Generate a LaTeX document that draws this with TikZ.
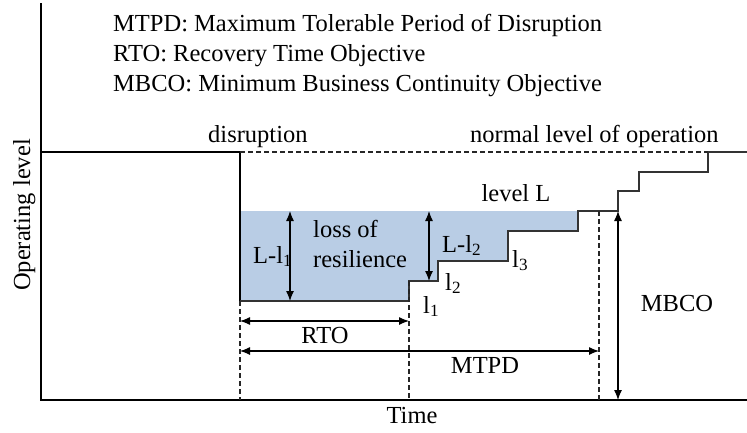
\documentclass[tikz,border=0pt]{standalone}
\usepackage{fontspec}
\setmainfont{Liberation Serif}
\usetikzlibrary{arrows.meta, positioning}

\definecolor{lossblue}{RGB}{185,205,229}

\tikzstyle{axis} = [line width=1.5pt, draw=black]
\tikzstyle{profile} = [line width=1.3pt, draw=black!80]
\tikzstyle{guide} = [line width=1.2pt, draw=black!85, dash pattern=on 5pt off 3pt]
\tikzstyle{dimarrow} = [line width=1.2pt, {Latex[length=10pt,width=8pt]}-{Latex[length=10pt,width=8pt]}]
\tikzstyle{txt} = [inner sep=0pt, font=\fontsize{24.5}{30}\selectfont]

\begin{document}
\begin{tikzpicture}[x=1pt, y=-1pt, node distance=0pt]
 \useasboundingbox (0,0) rectangle (747,432);

 % key points of the operating level curve
 \coordinate (origin) at (41,400);
 \coordinate (ytop) at (41,3);
 \coordinate (xend) at (747,400);
 \coordinate (disrupt) at (240,152);
 \coordinate (low) at (240,301);
 \coordinate (lone) at (409,281);
 \coordinate (mtpdtop) at (599,211);
 \coordinate (levelL) at (618,211);
 \coordinate (back) at (708,152);

 % loss of resilience
 \fill[lossblue] (240,211) -- (578,211) -- (578,231) -- (508,231) -- (508,261)
  -- (438,261) -- (438,281) -- (409,281) -- (409,301) -- (240,301) -- cycle;

 % axes
 \draw[axis] (ytop) -- (origin) -- (xend);

 % operating level
 \draw[axis] (41,152) -- (disrupt) -- (low);
 \draw[profile] (low) -- (409,301) -- (lone) -- (438,281) -- (438,261) -- (508,261)
  -- (508,231) -- (578,231) -- (578,211) -- (levelL) -- (618,191) -- (639,191)
  -- (639,172) -- (708,172) -- (back) -- (747,152);
 \draw[guide] (disrupt) -- (back);

 % time marks
 \draw[guide] (low) -- (low |- origin);
 \draw[guide] (lone) -- (lone |- origin);
 \draw[guide] (mtpdtop) -- (mtpdtop |- origin);

 % spans
 \coordinate (rtoL) at (240,321);
 \coordinate (rtoR) at (409,321);
 \coordinate (mtpdL) at (240,351);
 \coordinate (mtpdR) at (599,351);
 \coordinate (lossA) at (290,211);
 \coordinate (lossB) at (290,301);
 \coordinate (lossC) at (429,211);
 \coordinate (lossD) at (429,281);
 \draw[dimarrow] (rtoL) -- (rtoR);
 \draw[dimarrow] (mtpdL) -- (mtpdR);
 \draw[dimarrow] (lossA) -- (lossB);
 \draw[dimarrow] (lossC) -- (lossD);
 \draw[dimarrow] (levelL) -- (levelL |- origin);

 % legend
 \node (mtpddef) [txt, anchor=base west] at (113,31) {MTPD: Maximum Tolerable Period of Disruption};
 \node (rtodef) [txt, anchor=base west] at (113,61) {RTO: Recovery Time Objective};
 \node (mbcodef) [txt, anchor=base west] at (113,91) {MBCO: Minimum Business Continuity Objective};

 % labels
 \node (disruption) [txt, anchor=base west] at (208,142) {disruption};
 \node (normal) [txt, anchor=base west] at (470,142) {normal level of operation};
 \node (levellbl) [txt, anchor=base] at (516,201) {level L};
 \node (loss) [txt, anchor=base west] at (313,237) {loss of};
 \node (resilience) [txt, anchor=base west] at (313,267) {resilience};
 \node (lminusone) [txt, anchor=base west] at (253,263) {L-l\textsubscript{1}};
 \node (lminustwo) [txt, anchor=base west] at (442,252) {L-l\textsubscript{2}};
 \node (lvone) [txt, anchor=base west] at (423,313) {l\textsubscript{1}};
 \node (lvtwo) [txt, anchor=base west] at (445,290) {l\textsubscript{2}};
 \node (lvthree) [txt, anchor=base west] at (512,267) {l\textsubscript{3}};
 \node (rtolbl) [txt, anchor=base] at (325,343) {RTO};
 \node (mtpdlbl) [txt, anchor=base] at (485,373) {MTPD};
 \node (mbcolbl) [txt, anchor=base] at (677,311) {MBCO};
 \node (time) [txt, anchor=base] at (412,423) {Time};
 \node (oplevel) [txt, anchor=base, rotate=90] at (30,215) {Operating level};
\end{tikzpicture}
\end{document}
